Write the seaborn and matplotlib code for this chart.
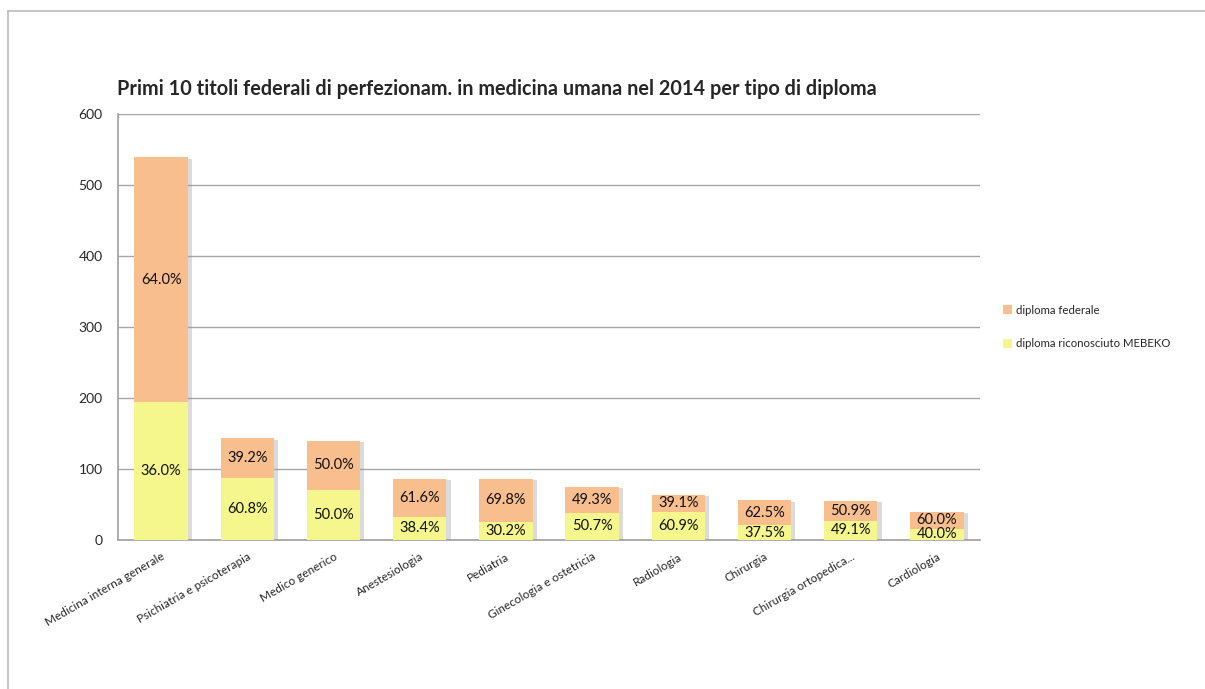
import matplotlib
matplotlib.use("Agg")
import matplotlib.pyplot as plt
import matplotlib.patheffects as pe
import seaborn as sns
import pandas as pd

# dati
titoli = ["Medicina interna generale", "Psichiatria e psicoterapia", "Medico generico",
          "Anestesiologia", "Pediatria", "Ginecologia e ostetricia", "Radiologia",
          "Chirurgia", "Chirurgia ortopedica...", "Cardiologia"]
riconosciuto = [194, 87, 70, 33, 26, 38, 39, 21, 27, 16]
federale = [345, 56, 70, 53, 60, 37, 25, 35, 28, 24]

col_fed = "#F9BE8E"
col_rico = "#F5F78D"

df = pd.DataFrame({"titolo": titoli, "rico": riconosciuto, "fed": federale})
df["totale"] = df["rico"] + df["fed"]

sns.set_style("white")
plt.rcParams["font.family"] = ["Lato", "DejaVu Sans"]

fig = plt.figure(figsize=(12.05, 6.89), dpi=100)
ax = fig.add_axes([0.0979, 0.2163, 0.7154, 0.6183])

# cornice del grafico
fig.add_artist(plt.Line2D([8 / 1205, 1.0], [1 - 11 / 689, 1 - 11 / 689], color="#BBBBBB", lw=1.2))
fig.add_artist(plt.Line2D([8 / 1205, 8 / 1205], [0.0, 1 - 11 / 689], color="#BBBBBB", lw=1.2))

sns.barplot(data=df, x="titolo", y="totale", color=col_fed, width=0.62, ax=ax, errorbar=None,
            saturation=1, label="diploma federale", zorder=3, linewidth=0, edgecolor="none")
sns.barplot(data=df, x="titolo", y="rico", color=col_rico, width=0.62, ax=ax, errorbar=None,
            saturation=1, label="diploma riconosciuto MEBEKO", zorder=3, linewidth=0, edgecolor="none")

n = len(titoli)
h, l = ax.get_legend_handles_labels()
leg = ax.legend(h, l, loc="center left", bbox_to_anchor=(1.015, 0.5), frameon=False, fontsize=8.2,
                handlelength=0.8, handleheight=0.8, handletextpad=0.3, labelspacing=2.0)

# ombra a destra delle barre
for i, p in enumerate(ax.patches):
    if i < n:
        p.set_path_effects([pe.SimplePatchShadow(offset=(3, -1), shadow_rgbFace="#999999", alpha=0.35),
                            pe.Normal()])

# etichette percentuali
for i, row in df.iterrows():
    tot = row["totale"]
    ax.text(i, row["rico"] / 2, f"{row['rico'] / tot * 100:.1f}%", ha="center", va="center",
            fontsize=10.5, color="#111111", zorder=5)
    ax.text(i, row["rico"] + row["fed"] / 2, f"{row['fed'] / tot * 100:.1f}%", ha="center",
            va="center", fontsize=10.5, color="#111111", zorder=5)

ax.set_ylim(0, 600)
ax.set_xlim(-0.5, n - 0.5)
ax.set_yticks(range(0, 601, 100))
ax.yaxis.grid(True, color="#A6A6A6", lw=1, zorder=0)
ax.set_axisbelow(True)
for s in ["top", "right"]:
    ax.spines[s].set_visible(False)
for s in ["left", "bottom"]:
    ax.spines[s].set_color("#A0A0A0")
    ax.spines[s].set_linewidth(1.2)

ax.set_xlabel("")
ax.set_ylabel("")
ax.set_xticks(range(n))
ax.set_xticklabels(titoli, rotation=30, ha="right", rotation_mode="anchor", fontsize=8.5)
ax.set_xticks([x - 0.5 for x in range(n + 1)], minor=True)
ax.tick_params(axis="x", which="major", length=0, pad=8)
ax.tick_params(axis="x", which="minor", length=5, color="#A0A0A0", direction="out")
ax.tick_params(axis="y", length=5, color="#A0A0A0", direction="out", labelsize=10, pad=6)

ax.set_title("Primi 10 titoli federali di perfezionam. in medicina umana nel 2014 per tipo di diploma",
             fontsize=14.3, fontweight="bold", loc="left", x=-0.001, pad=14)

fig.savefig("out.png", dpi=100)
